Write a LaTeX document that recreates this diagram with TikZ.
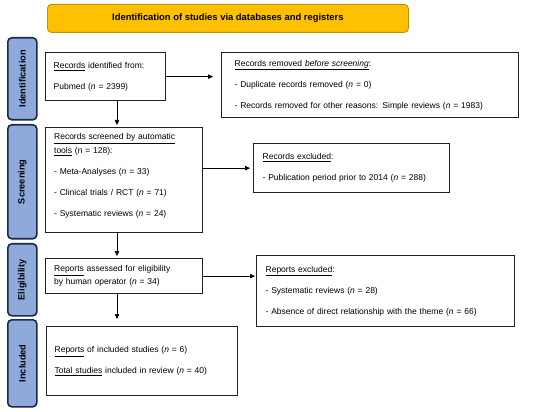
\documentclass[tikz,border=0pt]{standalone}
\usepackage{fontspec}
\setmainfont{Liberation Sans}
\usetikzlibrary{arrows.meta}
\definecolor{titlefill}{HTML}{FFC000}
\definecolor{titledraw}{HTML}{BF9000}
\definecolor{sidefill}{HTML}{8EA9DB}
\definecolor{sidedraw}{HTML}{1F2A44}
\definecolor{boxdraw}{HTML}{222222}
\begin{document}
\begin{tikzpicture}[x=1pt,y=-1pt,
  txt/.style={font=\fontsize{8.5}{14}\selectfont},
  recbox/.style={txt,draw=boxdraw,line width=1.3pt,anchor=north west,align=left,inner ysep=0pt},
  sidebox/.style={draw=sidedraw,fill=sidefill,line width=1.6pt,rounded corners=4pt,anchor=north west,
    minimum width=29pt,inner sep=0pt},
  sidetxt/.style={font=\fontsize{9.2}{10}\selectfont\bfseries,rotate=90},
  flow/.style={draw=black,line width=0.6pt,-{Triangle[length=5pt,width=4.5pt]}}]
\useasboundingbox (0,0) rectangle (550,412);
% title
\node[draw=titledraw,fill=titlefill,line width=0.8pt,rounded corners=4pt,anchor=north west,
  minimum width=361pt,minimum height=28pt,inner sep=0pt,font=\fontsize{9.4}{10}\selectfont\bfseries]
  (title) at (47,4) {Identification of studies via databases and registers};
% side labels
\node[sidebox,minimum height=82pt] (sid) at (7,37) {};
\node[sidetxt] (sidt) at (sid.center) {Identification};
\node[sidebox,minimum height=114pt] (sscr) at (7,124) {};
\node[sidetxt] (sscrt) at (sscr.center) {Screening};
\node[sidebox,minimum height=72pt] (sel) at (7,243) {};
\node[sidetxt] (selt) at (sel.center) {Eligibility};
\node[sidebox,minimum height=87pt] (sinc) at (7,319) {};
\node[sidetxt] (sinct) at (sinc.center) {Included};
% boxes
\node[recbox,inner xsep=8pt,text width=104pt,minimum height=48pt] (id) at (45,52)
  {\underline{Records} identified from:\\[7pt] Pubmed (\textit{n} = 2399)};
\node[recbox,inner xsep=13pt,text width=271pt,minimum height=65pt] (rem) at (221,52)
  {\underline{Records removed \textit{before screening}}:\\[7pt]
   - Duplicate records removed (\textit{n} = 0)\\[7pt]
   - Records removed for other reasons: Simple reviews (\textit{n} = 1983)};
\node[recbox,inner xsep=8.5pt,text width=140pt,minimum height=105pt] (scr) at (45,127)
  {\underline{Records screened by automatic}\\ \underline{tools} (n = 128):\\[7pt]
   - Meta-Analyses (\textit{n} = 33)\\[7pt]
   - Clinical trials / RCT (\textit{n} = 71)\\[7pt]
   - Systematic reviews (\textit{n} = 24)\\[-4pt]\mbox{}};
\node[recbox,inner xsep=9pt,text width=178pt,minimum height=49pt] (exc1) at (253,143)
  {\underline{Records excluded}:\\[7pt]
   - Publication period prior to 2014 (\textit{n} = 288)};
\node[recbox,inner xsep=8.5pt,text width=140pt,minimum height=35pt,
  font=\fontsize{8.5}{13}\selectfont] (elig) at (45,258)
  {\underline{Reports} assessed for eligibility\\ by human operator (\textit{n} = 34)};
\node[recbox,inner xsep=9pt,text width=240pt,minimum height=71pt] (exc2) at (256,255)
  {\underline{Reports excluded}:\\[7pt]
   - Systematic reviews (\textit{n} = 28)\\[7pt]
   - Absence of direct relationship with the theme (\textit{n} = 66)};
\node[recbox,inner xsep=8pt,text width=175pt,minimum height=69pt] (inc) at (46,326)
  {\underline{Reports} of included studies (\textit{n} = 6)\\[7pt]
   \underline{Total studies} included in review (\textit{n} = 40)};
% connectors
\coordinate (vx) at (117,0);
\draw[flow,shorten >=8pt] (id.east) -- (id.east -| rem.west);
\draw[flow,shorten >=2pt] (id.south -| vx) -- (scr.north -| vx);
\draw[flow,shorten >=3pt] (exc1.west -| scr.east) -- (exc1.west);
\draw[flow,shorten >=2pt] (scr.south -| vx) -- (elig.north -| vx);
\draw[flow,shorten >=1pt] (elig.east) -- (elig.east -| exc2.west);
\draw[flow,shorten >=7pt] (elig.south -| vx) -- (inc.north -| vx);
\end{tikzpicture}
\end{document}
